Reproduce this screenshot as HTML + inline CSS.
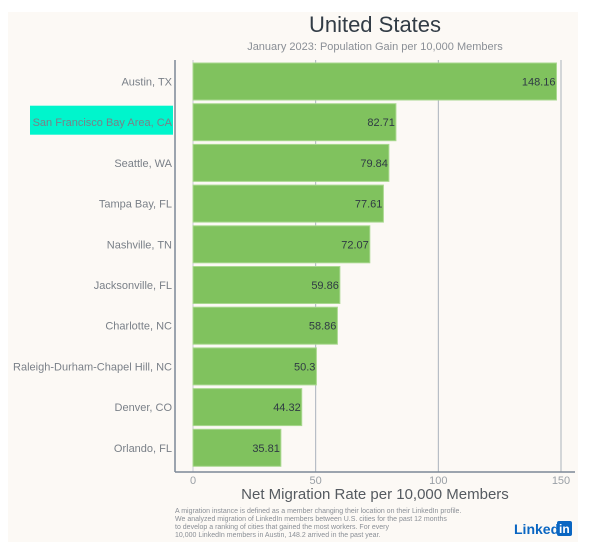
<!DOCTYPE html>
<html><head><meta charset="utf-8"><style>
html,body{margin:0;padding:0;background:#fff;}
svg{display:block;font-family:"Liberation Sans",sans-serif;}
</style></head><body>
<svg width="600" height="544" viewBox="0 0 600 544">
<rect x="8" y="12" width="570" height="530" fill="#fcf9f5"/>
<text x="375" y="32" text-anchor="middle" font-size="22" fill="#323c46">United States</text>
<text x="375" y="50" text-anchor="middle" font-size="11" fill="#8a8f96">January 2023: Population Gain per 10,000 Members</text>
<g id="grid"></g>
<g id="bars"></g>
<line x1="175" y1="60" x2="175" y2="472" stroke="#7d8896" stroke-width="1.5"/>
<line x1="175" y1="472" x2="575" y2="472" stroke="#7d8896" stroke-width="1.5"/>
<text x="375" y="499" text-anchor="middle" font-size="15" fill="#555a60">Net Migration Rate per 10,000 Members</text>
<g font-size="7" fill="#8a8f96">
<text x="175" y="513">A migration instance is defined as a member changing their location on their LinkedIn profile.</text>
<text x="175" y="521">We analyzed migration of LinkedIn members between U.S. cities for the past 12 months</text>
<text x="175" y="529">to develop a ranking of cities that gained the most workers. For every</text>
<text x="175" y="537">10,000 LinkedIn members in Austin, 148.2 arrived in the past year.</text>
</g>
<g>
<text x="514" y="534" font-size="14" font-weight="bold" fill="#0a66c2">Linked</text>
<rect x="557" y="521" width="15" height="15" rx="2" fill="#0a66c2"/>
<text x="559" y="533" font-size="12" font-weight="bold" fill="#fff">in</text>
</g>
<script>
const categories=["Austin, TX","San Francisco Bay Area, CA","Seattle, WA","Tampa Bay, FL","Nashville, TN","Jacksonville, FL","Charlotte, NC","Raleigh-Durham-Chapel Hill, NC","Denver, CO","Orlando, FL"];
const values=[148.16,82.71,79.84,77.61,72.07,59.86,58.86,50.3,44.32,35.81];
const valueLabels=["148.16","82.71","79.84","77.61","72.07","59.86","58.86","50.3","44.32","35.81"];
const ticks=[0,50,100,150];
const NS="http://www.w3.org/2000/svg";
const x0=193,pxPer=(561-193)/150;
const xs=v=>x0+v*pxPer;
const yTop=63,band=40.7,barH=37;
const ys=i=>yTop+i*band;
const g=document.getElementById('grid'),b=document.getElementById('bars');
function mk(tag,attrs,parent){const e=document.createElementNS(NS,tag);for(const k in attrs)e.setAttribute(k,attrs[k]);parent.appendChild(e);return e;}
ticks.forEach(t=>{
 const l=mk('line',{x1:xs(t),x2:xs(t),y1:60,y2:472,stroke:t===0?'#c8ccd2':'#aab2bc','stroke-width':1},g);
 
 
 const tx=mk('text',{x:xs(t),y:484,'text-anchor':'middle','font-size':11,fill:'#9aa0a6'},g);
 tx.textContent=t;
 
 
});
categories.forEach((c,i)=>{
 const y=ys(i);
 const r=mk('rect',{x:xs(0),y:y,width:xs(values[i])-xs(0),height:barH,fill:'#80c25e',stroke:'#a9d88f','stroke-width':1},b);
 
 
 const vl=mk('text',{x:xs(values[i])-1,y:y+barH/2+4,'text-anchor':'end','font-size':11,fill:'#2f3a44'},b);
 vl.textContent=valueLabels[i];
 
 
 if(i===1){
  const h=mk('rect',{x:30,y:y+2,width:143,height:barH-8,fill:'#00f5cc'},b);
  
  
 }
 const cl=mk('text',{x:172,y:y+barH/2+4,'text-anchor':'end','font-size':11,fill:'#7a8088'},b);
 cl.textContent=c;
 
 
});
</script>
</svg>
</body></html>
